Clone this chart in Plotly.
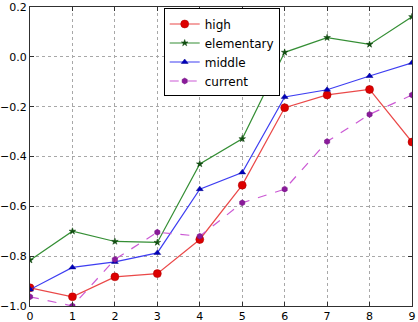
import plotly.graph_objects as go

x = list(range(10))
high = [-0.927, -0.963, -0.883, -0.870, -0.733, -0.515, -0.204, -0.153, -0.131, -0.342]
elementary = [-0.816, -0.700, -0.741, -0.745, -0.430, -0.329, 0.018, 0.077, 0.050, 0.161]
middle = [-0.934, -0.845, -0.823, -0.787, -0.531, -0.464, -0.161, -0.132, -0.077, -0.024]
current = [-0.963, -1.000, -0.813, -0.704, -0.720, -0.586, -0.531, -0.340, -0.231, -0.153]

fig = go.Figure()
fig.add_trace(go.Scatter(x=x, y=high, name="high", mode="lines+markers",
                         line=dict(color="rgba(230,40,40,0.85)", width=1.2),
                         marker=dict(symbol="circle", size=8, color="#dd0000",
                                     line=dict(color="#aa0000", width=0.5))))
fig.add_trace(go.Scatter(x=x, y=elementary, name="elementary", mode="lines+markers",
                         line=dict(color="rgba(30,130,30,0.9)", width=1.2),
                         marker=dict(symbol="star", size=5, color="#105010",
                                     line=dict(color="#0a400a", width=0.5))))
fig.add_trace(go.Scatter(x=x, y=middle, name="middle", mode="lines+markers",
                         line=dict(color="rgba(40,40,240,0.9)", width=1.2),
                         marker=dict(symbol="triangle-up", size=6, color="#0000bb",
                                     line=dict(color="#000088", width=0.5))))
fig.add_trace(go.Scatter(x=x, y=current, name="current", mode="lines+markers",
                         line=dict(color="rgba(200,80,210,0.95)", width=1.2, dash="dash"),
                         marker=dict(symbol="hexagon", size=6, color="#8a1a9a",
                                     line=dict(color="#701080", width=0.5))))

axis_common = dict(showgrid=True, gridcolor="#a8a8a8", griddash="dot", gridwidth=1,
                   showline=True, linecolor="#303030", linewidth=1.2, mirror="allticks",
                   ticks="inside", ticklen=4, tickcolor="#303030", zeroline=False,
                   automargin=False,
                   tickfont=dict(family="DejaVu Sans", size=11, color="#000000"))

fig.update_xaxes(range=[0, 9], dtick=1, **axis_common)
fig.update_yaxes(range=[-1.0, 0.2], dtick=0.2, tickformat=".1f", **axis_common)

fig.update_layout(
    width=418, height=322,
    margin=dict(l=30, r=6, t=7, b=16),
    paper_bgcolor="white", plot_bgcolor="white",
    font=dict(family="DejaVu Sans", size=12, color="#000000"),
    legend=dict(x=0.35, y=0.995, xanchor="left", yanchor="top",
                bgcolor="white", bordercolor="#000000", borderwidth=1,
                font=dict(family="DejaVu Sans", size=12), itemwidth=30,
                tracegroupgap=0),
)

fig.write_html("out.html")
